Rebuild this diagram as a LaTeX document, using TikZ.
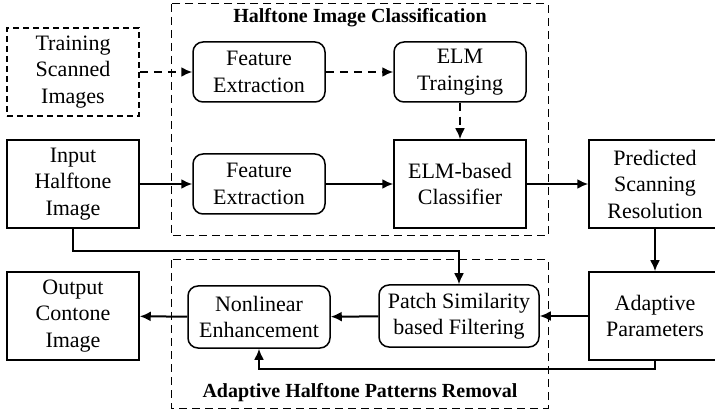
\documentclass[tikz,border=0pt]{standalone}
\usepackage{fontspec}
\setmainfont{Liberation Serif}
\usetikzlibrary{arrows.meta}

\begin{document}
\begin{tikzpicture}[x=0.5pt,y=-0.5pt,
    box/.style={draw, line width=0.75pt, minimum width=66pt, minimum height=44pt,
      inner sep=0pt, align=center, font=\fontsize{11}{13.25}\selectfont},
    rbox/.style={box, rounded corners=5pt, minimum height=30pt},
    group/.style={draw, line width=0.5pt, dash pattern=on 4pt off 2.5pt},
    arr/.style={-{Latex[length=5.5pt,width=5pt]}, line width=1pt},
    darr/.style={arr, dash pattern=on 4pt off 3pt},
    grouptitle/.style={font=\fontsize{10}{12}\selectfont\bfseries}]
        \useasboundingbox (0,0) rectangle (715,410);
        %% groups
        \draw[group] (171,4) rectangle (548,236);
        \draw[group] (171,260) rectangle (548,408);
        \node[grouptitle] (clstitle) at (360,18) {Halftone Image Classification};
        \node[grouptitle] (remtitle) at (360,393) {Adaptive Halftone Patterns Removal};
        %% boxes
        \node[box, dash pattern=on 3pt off 2pt] (train) at (73,72) {Training\\Scanned\\Images};
        \node[box] (input)  at (73,184)  {Input\\Halftone\\Image};
        \node[box] (output) at (73,316)  {Output\\Contone\\Image};
        \node[rbox] (feat1) at (259,72)  {Feature\\Extraction};
        \node[rbox] (elmtrain) at (460,72) {ELM\\Trainging};
        \node[rbox] (feat2) at (259,184) {Feature\\Extraction};
        \node[box] (classifier) at (460,184) {ELM-based\\Classifier};
        \node[box] (pred)   at (655,184) {Predicted\\Scanning\\Resolution};
        \node[box] (adapt)  at (655,316) {Adaptive\\Parameters};
        \node[rbox, minimum width=71pt, minimum height=31pt] (nonlin) at (259,317) {Nonlinear\\Enhancement};
        \node[rbox, minimum width=80pt, minimum height=31pt] (patch) at (459,316) {Patch Similarity\\based Filtering};
        %% connectors
        \draw[darr] (train) -- (feat1);
        \draw[darr] (feat1) -- (elmtrain);
        \draw[darr] (elmtrain) -- (classifier);
        \draw[arr] (input) -- (feat2);
        \draw[arr] (feat2) -- (classifier);
        \draw[arr] (classifier) -- (pred);
        \draw[arr] (pred) -- (adapt);
        \draw[arr] (adapt) -- (patch);
        \draw[arr] (patch) -- (nonlin);
        \draw[arr] (nonlin) -- (output);
        \draw[arr] (input.south) -- ++(0,22) -| (patch.north);
        \draw[arr] (adapt.south) -- ++(0,8) -| (nonlin.south);
      \end{tikzpicture}
\end{document}
